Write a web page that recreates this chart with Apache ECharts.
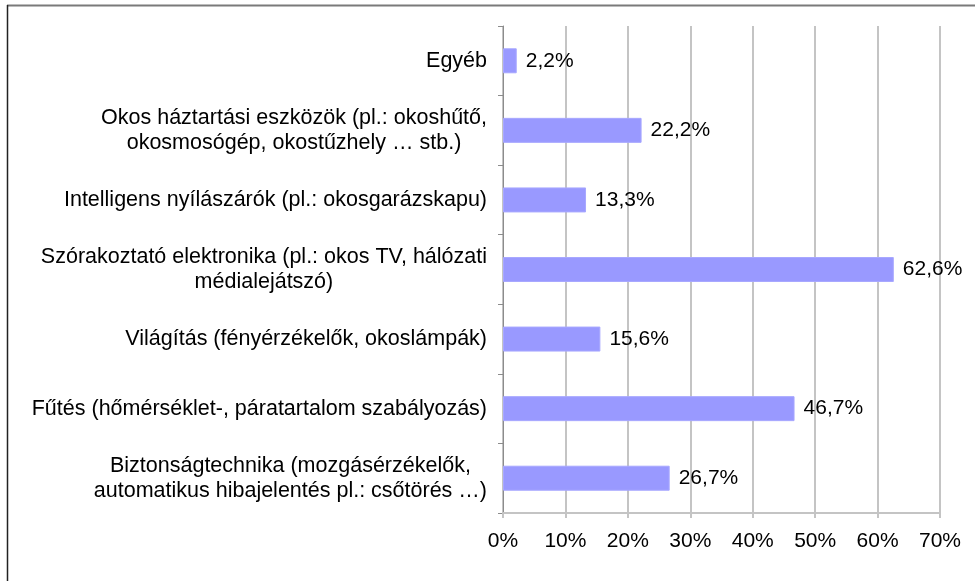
<!DOCTYPE html>
<html>
<head>
<meta charset="utf-8">
<script src="https://cdn.jsdelivr.net/npm/echarts@6/dist/echarts.min.js"></script>
<style>
  html, body { margin: 0; padding: 0; background: #fff; }
  #chart-container { width: 975px; height: 581px; }
</style>
</head>
<body>
<div id="chart-container"></div>
<script>
// categories, top to bottom as in the picture
var categories = [
  'Egyéb',
  'Okos háztartási eszközök (pl.: okoshűtő,\nokosmosógép, okostűzhely … stb.)',
  'Intelligens nyílászárók (pl.: okosgarázskapu)',
  'Szórakoztató elektronika (pl.: okos TV, hálózati\nmédialejátszó)',
  'Világítás (fényérzékelők, okoslámpák)',
  'Fűtés (hőmérséklet-, páratartalom szabályozás)',
  'Biztonságtechnika (mozgásérzékelők,\nautomatikus hibajelentés pl.: csőtörés …)'
];

var values = [2.2, 22.2, 13.3, 62.6, 15.6, 46.7, 26.7];

var xTicks = [0, 10, 20, 30, 40, 50, 60, 70];

var FONT = '"Liberation Sans", Arial, sans-serif';
var FS = 21;
var FS_CAT = 21.5;

var dom = document.getElementById('chart-container');
var myChart = echarts.init(dom, null, { renderer: 'canvas' });

var option = {
  animation: false,
  grid: { left: 503, right: 35, top: 26, bottom: 68, containLabel: false },
  xAxis: {
    type: 'value',
    min: xTicks[0],
    max: xTicks[xTicks.length - 1],
    interval: 10,
    axisLine: { show: true, lineStyle: { color: '#c4c4c4', width: 2 } },
    axisTick: { show: true, length: 5, lineStyle: { color: '#c4c4c4', width: 2 } },
    splitLine: { show: true, lineStyle: { color: '#c4c4c4', width: 2 } },
    axisLabel: {
      margin: 18,
      color: '#000',
      fontSize: FS,
      fontFamily: FONT,
      formatter: function (v) { return v + '%'; }
    }
  },
  yAxis: {
    type: 'category',
    inverse: true,
    data: categories,
    axisLine: { show: true, lineStyle: { color: '#8c8c8c', width: 1 } },
    axisTick: { show: true, length: 5, lineStyle: { color: '#8c8c8c' } },
    axisLabel: {
      margin: 16,
      color: '#000',
      fontSize: FS_CAT,
      fontFamily: FONT,
      lineHeight: 25,
      // center each line of a label within its block
      formatter: function (v) {
        return v.split('\n').map(function (s) { return '{c|' + s + '}'; }).join('\n');
      },
      rich: {
        c: { align: 'center', fontSize: FS_CAT, lineHeight: 25, fontFamily: FONT, color: '#000' }
      }
    }
  },
  series: [
    {
      type: 'bar',
      data: values,
      barWidth: 25,
      itemStyle: { color: '#9999ff', borderColor: '#a8a8ff', borderWidth: 1 },
      label: {
        show: true,
        position: 'right',
        distance: 9,
        color: '#000',
        fontSize: FS,
        fontFamily: FONT,
        formatter: function (p) { return p.value.toFixed(1).replace('.', ',') + '%'; }
      }
    }
  ],
  graphic: [
    { type: 'line', shape: { x1: 7, y1: 5.5, x2: 975, y2: 5.5 }, style: { stroke: '#7a7a7a', lineWidth: 2 } },
    { type: 'line', shape: { x1: 7.5, y1: 5, x2: 7.5, y2: 581 }, style: { stroke: '#222', lineWidth: 1.5 } }
  ]
};

myChart.setOption(option);
window.addEventListener('resize', myChart.resize);
</script>
</body>
</html>
